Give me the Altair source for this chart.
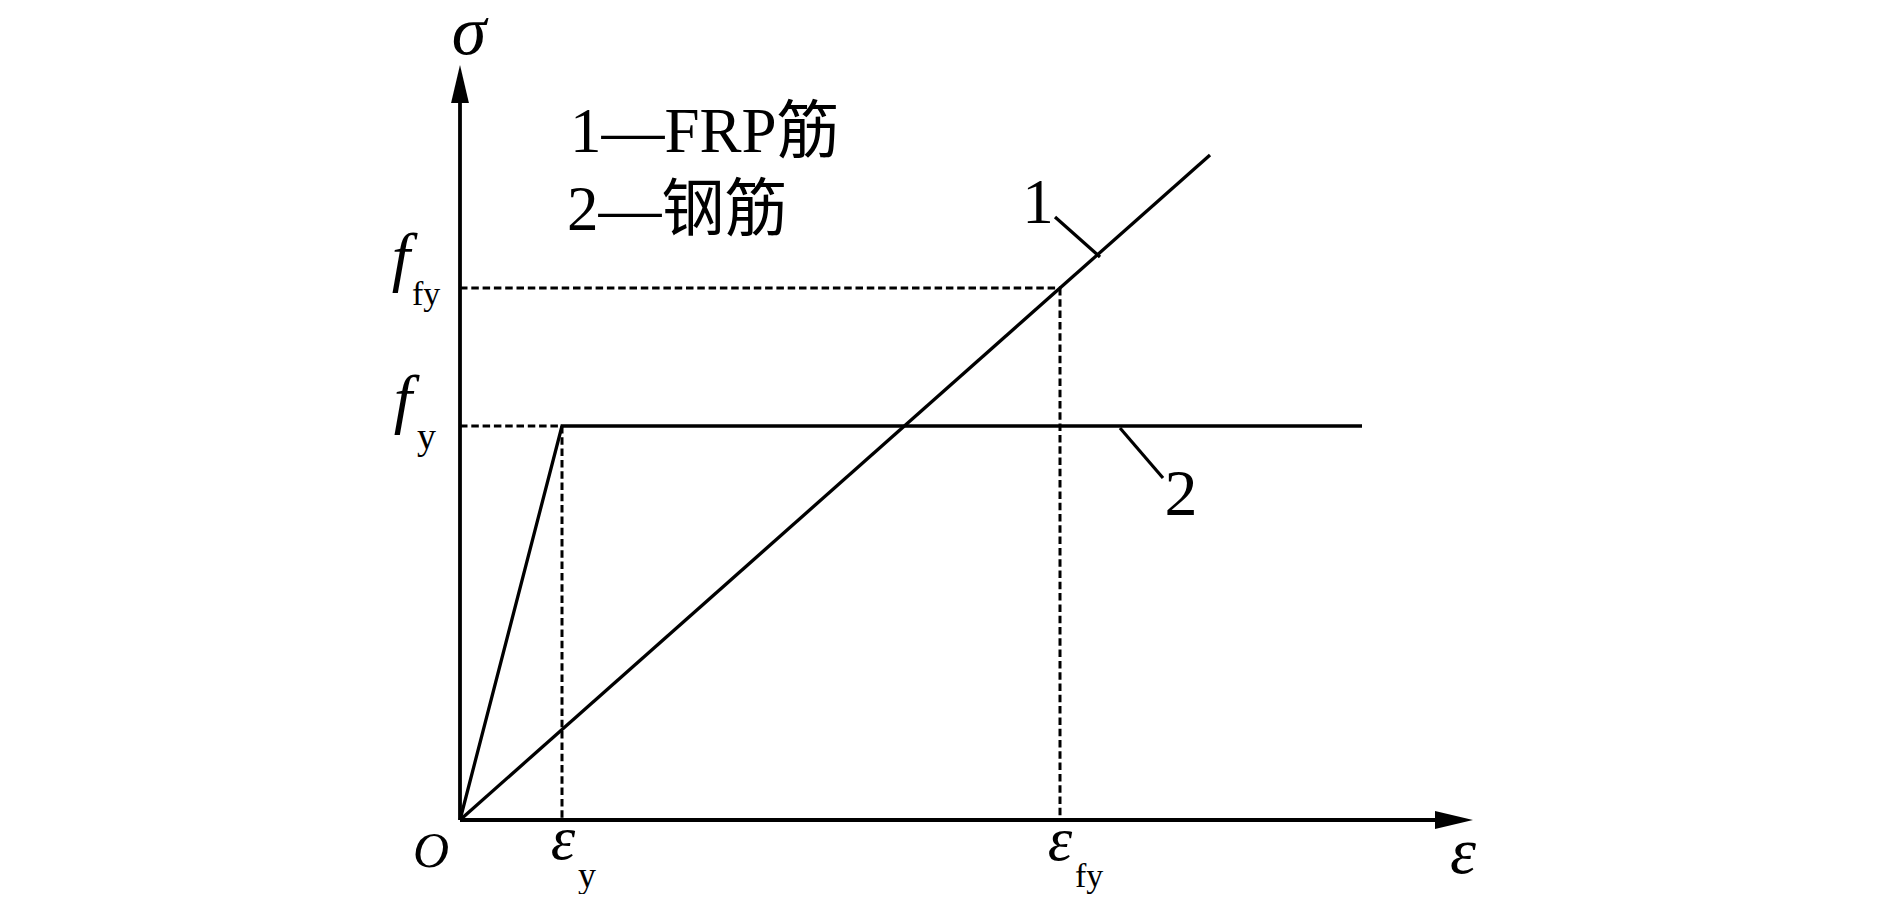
import altair as alt
import pandas as pd

# ---- schematic values (strain units, stress units) ----
eps_y = 1.02      # steel yield strain
eps_fy = 6.00     # FRP strain at f_fy
f_y = 3.94        # steel yield stress
f_fy = 5.32       # FRP reference stress

steel_x = [0.0, eps_y, 9.02]
steel_y = [0.0, f_y, f_y]
frp_x = [0.0, 7.50]
frp_y = [0.0, 6.65]

axis_x_tip = 10.13
axis_y_tip = 7.55

# dashed guide segments: x, y, x2, y2
guide_x = [0.0, eps_fy, 0.0, eps_y]
guide_y = [f_fy, f_fy, f_y, f_y]
guide_x2 = [eps_fy, eps_fy, eps_y, eps_y]
guide_y2 = [f_fy, 0.0, f_y, 0.0]

# leader lines for curve labels
leader_x = [5.95, 6.60]
leader_y = [6.03, 3.92]
leader_x2 = [6.40, 7.03]
leader_y2 = [5.63, 3.42]

# ---- text entries: text, x, y, size, italic, align ----
texts = [
    ("σ", 0.09, 7.66, 70, True, "center"),
    ("O", -0.29, -0.47, 50, True, "center"),
    ("ε", 1.03, -0.39, 62, True, "center"),
    ("y", 1.18, -0.67, 36, False, "left"),
    ("ε", 6.00, -0.40, 62, True, "center"),
    ("fy", 6.15, -0.67, 34, False, "left"),
    ("ε", 10.03, -0.53, 66, True, "center"),
    ("f", -0.59, 5.41, 66, True, "center"),
    ("fy", -0.48, 5.15, 34, False, "left"),
    ("f", -0.57, 3.99, 66, True, "center"),
    ("y", -0.43, 3.71, 38, False, "left"),
    ("1—FRP筋", 1.10, 6.68, 63, False, "left"),
    ("2—钢筋", 1.07, 5.90, 63, False, "left"),
    ("1", 5.78, 5.97, 63, False, "center"),
    ("2", 7.21, 3.05, 66, False, "center"),
]

W, H = 1872, 886
xs = alt.Scale(domain=[-4.52, -4.52 + W / 100], nice=False, zero=False)
ys = alt.Scale(domain=[8.12 - H / 100, 8.12], nice=False, zero=False)
FONT = "Liberation Serif, Times New Roman, Noto Sans CJK SC"


def X(f="x"):
    return alt.X(f"{f}:Q", scale=xs, axis=None)


def Y(f="y"):
    return alt.Y(f"{f}:Q", scale=ys, axis=None)


steel = alt.Chart(pd.DataFrame({"x": steel_x, "y": steel_y, "o": range(3)})).mark_line(
    color="black", strokeWidth=3.3).encode(x=X(), y=Y(), order="o:Q")
frp = alt.Chart(pd.DataFrame({"x": frp_x, "y": frp_y})).mark_line(
    color="black", strokeWidth=3.3).encode(x=X(), y=Y())

guides = alt.Chart(pd.DataFrame({"x": guide_x, "y": guide_y, "x2": guide_x2, "y2": guide_y2})).mark_rule(
    color="black", strokeWidth=3, strokeDash=[7.5, 3.8]).encode(x=X(), y=Y(), x2="x2:Q", y2="y2:Q")

leaders = alt.Chart(pd.DataFrame({"x": leader_x, "y": leader_y, "x2": leader_x2, "y2": leader_y2})).mark_rule(
    color="black", strokeWidth=3.2).encode(x=X(), y=Y(), x2="x2:Q", y2="y2:Q")

axes = alt.Chart(pd.DataFrame({"x": [0.0, 0.0], "y": [0.0, 0.0],
                               "x2": [axis_x_tip - 0.3, 0.0], "y2": [0.0, axis_y_tip - 0.3]})).mark_rule(
    color="black", strokeWidth=3.8).encode(x=X(), y=Y(), x2="x2:Q", y2="y2:Q")

arrow_up = alt.Chart(pd.DataFrame({"x": [0.0], "y": [axis_y_tip - 0.19]})).mark_point(
    shape="M0,-1L0.47,1L-0.47,1Z", size=1444, filled=True, color="black", opacity=1,
    strokeWidth=0).encode(x=X(), y=Y())
arrow_right = alt.Chart(pd.DataFrame({"x": [axis_x_tip - 0.19], "y": [0.0]})).mark_point(
    shape="M1,0L-1,0.47L-1,-0.47Z", size=1444, filled=True, color="black", opacity=1,
    strokeWidth=0).encode(x=X(), y=Y())

layers = [guides, steel, frp, leaders, axes, arrow_up, arrow_right]
for t, x, y, s, it, al in texts:
    kw = dict(font=FONT, fontSize=s, color="black", align=al, baseline="alphabetic")
    if it:
        kw["fontStyle"] = "italic"
    layers.append(
        alt.Chart(pd.DataFrame({"x": [x], "y": [y], "t": [t]})).mark_text(**kw).encode(
            x=X(), y=Y(), text="t:N")
    )

chart = alt.layer(*layers).properties(
    width=W, height=H, padding=0, autosize=alt.AutoSizeParams(type="none")
).configure_view(stroke=None)

chart.save("out.html", embed_options={"renderer": "svg", "actions": False})
